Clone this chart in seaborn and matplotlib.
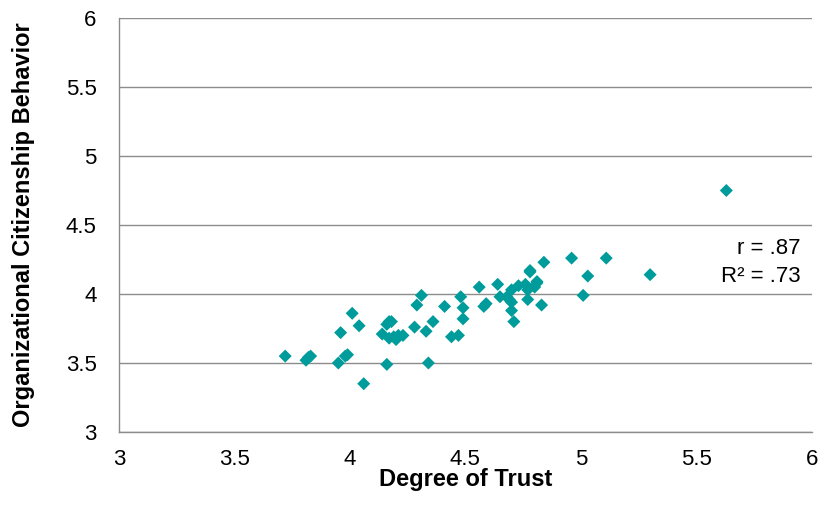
import matplotlib
matplotlib.use("Agg")
import matplotlib.pyplot as plt
import seaborn as sns
import pandas as pd

# Degree of trust vs. OCB
trust = [3.72, 3.81, 3.82, 3.83, 3.95, 3.96, 3.98, 3.99, 4.01, 4.04,
         4.06, 4.14, 4.16, 4.16, 4.17, 4.18, 4.17, 4.19, 4.20, 4.21,
         4.23, 4.28, 4.29, 4.31, 4.33, 4.34, 4.36, 4.41, 4.44, 4.47,
         4.48, 4.49, 4.49, 4.56, 4.58, 4.59, 4.64, 4.65, 4.68, 4.69,
         4.70, 4.70, 4.70, 4.71, 4.73, 4.76, 4.77, 4.77, 4.78, 4.78,
         4.80, 4.81, 4.81, 4.83, 4.84, 4.96, 5.01, 5.03, 5.11, 5.30,
         5.63]
ocb = [3.55, 3.52, 3.54, 3.55, 3.50, 3.72, 3.55, 3.56, 3.86, 3.77,
       3.35, 3.71, 3.49, 3.78, 3.80, 3.80, 3.68, 3.69, 3.67, 3.70,
       3.70, 3.76, 3.92, 3.99, 3.73, 3.50, 3.80, 3.91, 3.69, 3.70,
       3.98, 3.90, 3.82, 4.05, 3.91, 3.93, 4.07, 3.98, 3.98, 3.96,
       3.94, 4.03, 3.88, 3.80, 4.06, 4.07, 4.03, 3.96, 4.16, 4.17,
       4.05, 4.08, 4.09, 3.92, 4.23, 4.26, 3.99, 4.13, 4.26, 4.14,
       4.75]
ticks = [3, 3.5, 4, 4.5, 5, 5.5, 6]
tick_labels = ["3", "3.5", "4", "4.5", "5", "5.5", "6"]

df = pd.DataFrame({"trust": trust, "ocb": ocb})

sns.set_style("white")
plt.rcParams["font.family"] = ["Liberation Sans", "DejaVu Sans"]
plt.rcParams["text.color"] = "black"
plt.rcParams["axes.labelcolor"] = "black"

fig = plt.figure(figsize=(8.2, 5.08), dpi=100)
ax = fig.add_axes([0.145, 0.1496, 0.845, 0.815])

sns.scatterplot(data=df, x="trust", y="ocb", marker="D", s=44,
                color="#009B9B", edgecolor="none", ax=ax, zorder=3)

ax.set_xlim(3, 6)
ax.set_ylim(3, 6)
ax.set_xticks(ticks)
ax.set_xticklabels(tick_labels)
ax.set_yticks(ticks)
ax.set_yticklabels(tick_labels)
ax.yaxis.grid(True, color="#8c8c8c", linewidth=1)
ax.xaxis.grid(False)
ax.set_axisbelow(True)

for side in ["top", "right"]:
    ax.spines[side].set_visible(False)
for side in ["left", "bottom"]:
    ax.spines[side].set_color("#8c8c8c")
    ax.spines[side].set_linewidth(1)

ax.tick_params(axis="both", which="major", direction="out", length=5,
               width=1, color="#8c8c8c", labelsize=16, labelcolor="black")
ax.tick_params(axis="x", pad=7)
ax.tick_params(axis="y", pad=11)

ax.set_xlabel("Degree of Trust", fontsize=17, fontweight="bold", labelpad=-1)
ax.set_ylabel("Organizational Citizenship Behavior", fontsize=17,
              fontweight="bold", labelpad=22)

ax.text(5.95, 4.33, "r = .87", fontsize=16, ha="right", va="center")
ax.text(5.95, 4.13, "R² = .73", fontsize=16, ha="right", va="center")

fig.savefig("out.png", dpi=100)
